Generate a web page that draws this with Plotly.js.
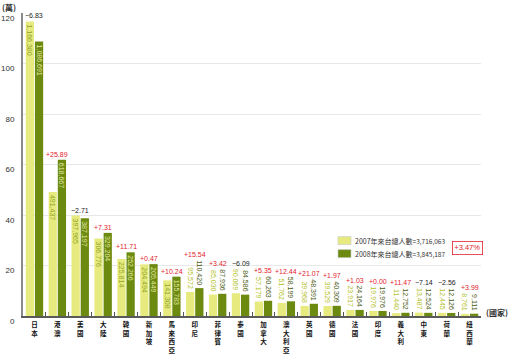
<!DOCTYPE html>
<html><head><meta charset="utf-8">
<script src="https://cdn.plot.ly/plotly-3.0.1.min.js"></script>
<style>html,body{margin:0;padding:0;background:#fff}#chart{width:520px;height:356px}</style>
</head><body><div id="chart"></div>
<script>
const categories = ['日本','港澳','美國','大陸','韓國','新加坡','馬來西亞','印尼','菲律賓','泰國','加拿大','澳大利亞','英國','德國','法國','印度','義大利','中東','荷蘭','紐西蘭'];
const visitors2007 = [1166380,491437,397965,306776,225814,204494,141308,95572,85030,90069,57179,51762,39968,39529,23917,19976,11440,13487,12445,8761];
const visitors2008 = [1086691,618667,387197,329204,252266,205449,155783,110420,87936,84586,60263,58199,48391,40309,24164,19976,12752,12524,12126,9111];
const changePct = [-6.83,25.89,-2.71,7.31,11.71,0.47,10.24,15.54,3.42,-6.09,5.35,12.44,21.07,1.97,1.03,0.00,11.47,-7.14,-2.56,3.99];
const seriesNames = ['2007年來台總人數','2008年來台總人數'];
const seriesTotals = [3716063, 3845187];
const totalChange = '+3.47%';
const yTicks = [0,20,40,60,80,100,120];
const unitLabel = '(萬)';
const categoryAxisLabel = '(國家)';

const W = 520, H = 356;
const M = {l: 23, r: 39, t: 12.5, b: 40};
const plotW = W - M.l - M.r, plotH = H - M.t - M.b;
const yMax = 120, UNIT = 1e4;
const pxPerUnit = plotH / yMax;
const INSIDE_MIN = 120000;
const valFont = 7;
const NUMF = "'Liberation Sans', Arial, sans-serif";
const CJK = "'Noto Sans CJK TC', 'Noto Sans CJK SC', sans-serif";
const LIGHT = '#e7eb7f', DARK = '#6c8a10';

const fmt = v => v.toLocaleString('en-US');
const textLen = s => s.replace(/,/g,'').length * 0.556 * valFont + (s.match(/,/g) || []).length * 0.278 * valFont;
const vert = s => s.split('').join('<br>');
const xCats = categories.map(vert);
const px2x = px => (px - M.l) / plotW;
const py2y = py => (H - M.b - py) / plotH;

function barTrace(vals, name, color, inColor, outColor) {
  return {
    type: 'bar', name: name, x: xCats, y: vals.map(v => v / UNIT),
    text: vals.map(fmt),
    textposition: vals.map(v => v >= INSIDE_MIN ? 'inside' : 'outside'),
    insidetextanchor: 'end', textangle: 90, constraintext: 'none', cliponaxis: false,
    insidetextfont: {family: NUMF, size: valFont, color: inColor},
    outsidetextfont: {family: NUMF, size: valFont, color: outColor},
    marker: {color: color, line: {width: 0}},
    hoverinfo: 'skip', showlegend: false
  };
}
const traces = [
  barTrace(visitors2007, seriesNames[0], LIGHT, '#8fa523', '#b3c22a'),
  barTrace(visitors2008, seriesNames[1], DARK, '#e3e8a0', '#4a5a12')
];

const annotations = categories.map((c, i) => {
  const tops = [visitors2007[i], visitors2008[i]].map(v =>
    v / UNIT + (v >= INSIDE_MIN ? 0 : (3 + textLen(fmt(v))) / pxPerUnit));
  const p = changePct[i];
  return {
    x: xCats[i], y: Math.max(...tops), xref: 'x', yref: 'y', yanchor: 'bottom', yshift: 0,
    showarrow: false, text: (p >= 0 ? '+' : '−') + Math.abs(p).toFixed(2),
    font: {family: NUMF, size: 7, color: p >= 0 ? '#e3222d' : '#222'}
  };
});
annotations.push({
  x: 0, y: 1, xref: 'paper', yref: 'paper', xanchor: 'left', yanchor: 'top', xshift: -23, yshift: 13,
  showarrow: false, text: unitLabel, font: {family: CJK, size: 8, color: '#333', weight: 'bold'}
});
annotations.push({
  x: 1, y: 0, xref: 'paper', yref: 'paper', xanchor: 'left', yanchor: 'middle', xshift: 3, yshift: 4,
  showarrow: false, text: categoryAxisLabel, font: {family: CJK, size: 8, color: '#333', weight: 'bold'}
});
const legendRows = [240.5, 253.5];
const shapes = [];
[LIGHT, DARK].forEach((col, i) => {
  const cy = legendRows[i];
  shapes.push({type: 'rect', xref: 'paper', yref: 'paper', x0: px2x(338), x1: px2x(351), y0: py2y(cy + 4), y1: py2y(cy - 4),
    fillcolor: col, line: {color: '#c8c8c8', width: 0.6}});
  annotations.push({
    x: px2x(353), y: py2y(cy), xref: 'paper', yref: 'paper', xanchor: 'left', yanchor: 'middle', showarrow: false,
    text: seriesNames[i] + '<span style="font-size:6.5px">=' + fmt(seriesTotals[i]) + '</span>',
    font: {family: CJK, size: 7, color: '#333'}
  });
});
annotations.push({
  x: px2x(467), y: py2y(248), xref: 'paper', yref: 'paper', xanchor: 'center', yanchor: 'middle', showarrow: false,
  text: totalChange, bordercolor: '#e3222d', borderwidth: 0.8, borderpad: 1.5, bgcolor: '#fff',
  font: {family: NUMF, size: 7.5, color: '#e3222d'}
});

const layout = {
  width: W, height: H, margin: M, paper_bgcolor: '#fff', plot_bgcolor: '#fff',
  barmode: 'group', bargap: 0.2, bargroupgap: 0.1, showlegend: false,
  xaxis: {
    type: 'category', showline: true, linecolor: '#5a5a5a', linewidth: 1.5,
    ticks: 'inside', tickson: 'boundaries', ticklen: 4, tickwidth: 1, tickcolor: '#555',
    showgrid: false, tickangle: 0, ticklabelstandoff: 2,
    tickfont: {family: CJK, size: 6.5, color: '#111', weight: 'bold'}, fixedrange: true
  },
  yaxis: {
    range: [0, yMax], tickmode: 'array', tickvals: yTicks, ticktext: yTicks.map(String),
    showline: true, linecolor: '#8a8a8a', linewidth: 2, ticks: '', zeroline: false,
    showgrid: true, gridcolor: '#e8e8e8', gridwidth: 1, ticklabelstandoff: 5, ticklabelshift: 5,
    tickfont: {family: NUMF, size: 8, color: '#333'}, fixedrange: true
  },
  annotations: annotations, shapes: shapes
};
Plotly.newPlot('chart', traces, layout, {staticPlot: true, displayModeBar: false});
</script></body></html>
